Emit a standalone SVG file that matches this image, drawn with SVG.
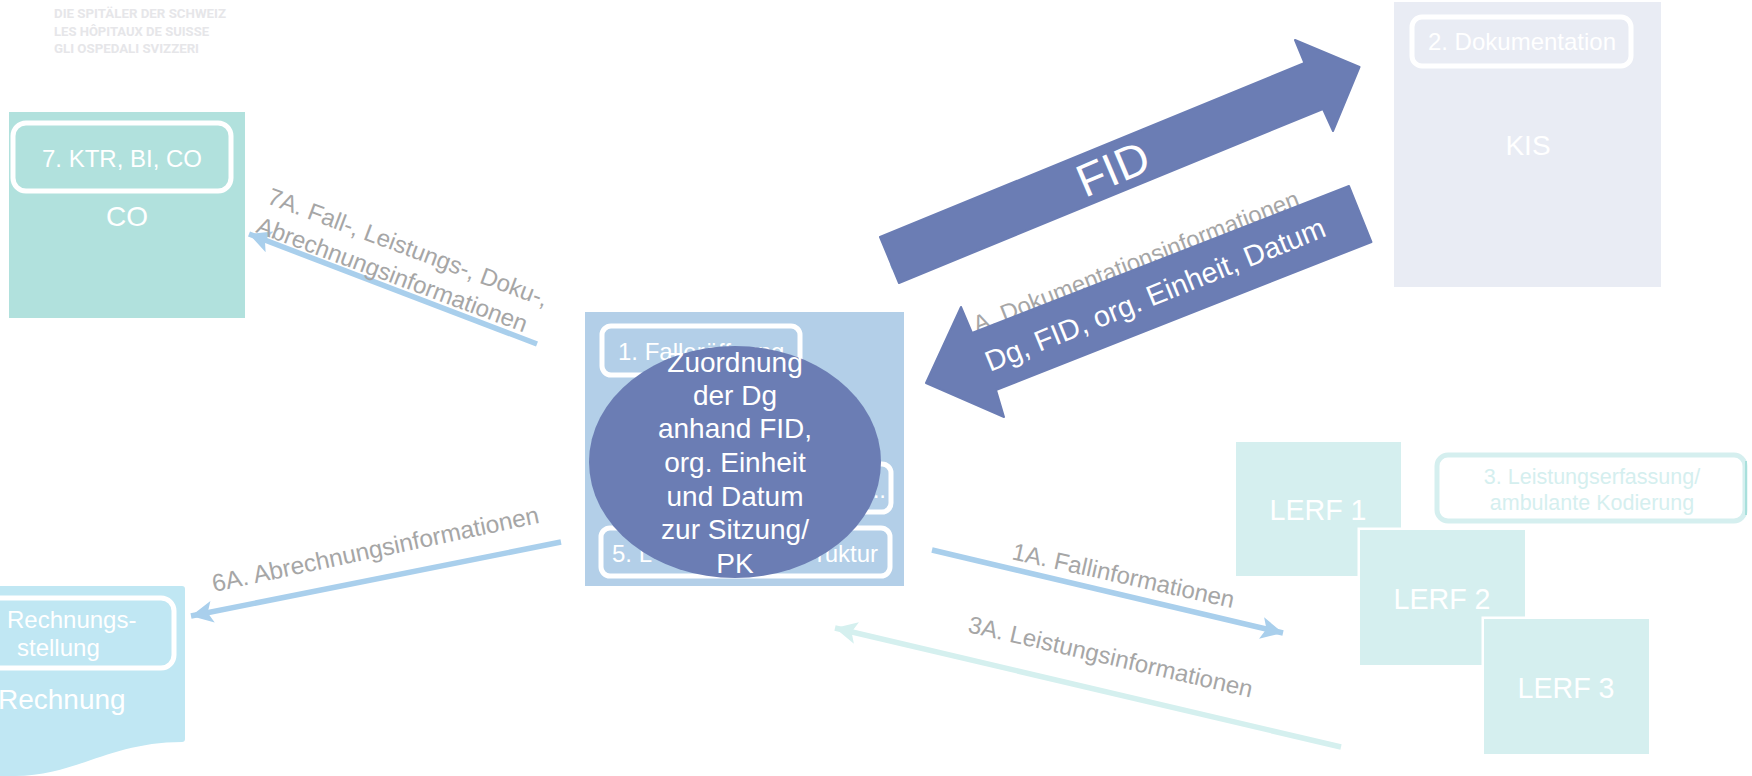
<svg xmlns="http://www.w3.org/2000/svg" width="1752" height="776" viewBox="0 0 1752 776">
<style>
text{font-family:"Liberation Sans",Arial,sans-serif}
.w{fill:#fff;font-size:24px}
.big{fill:#fff;font-size:28px;text-anchor:middle}
.lbl{fill:#a6a6a6;font-size:24px}
.box{fill:none;stroke:#fff;stroke-width:5}
.logo{fill:#e6e6e9;font-size:13.5px;font-weight:bold;font-family:"Roboto","Liberation Sans",sans-serif}
.a{stroke-width:5.5;fill:none}
.blue{stroke:#a9cfec}
.teal{stroke:#d5f0ef}
.fat{fill:#6b7db4;stroke:#6b7db4;stroke-width:2;stroke-linejoin:round}
.lerf{fill:#d5efef;stroke:#fff;stroke-width:5;paint-order:stroke}
</style>
<defs>
<marker id="hb" markerUnits="userSpaceOnUse" markerWidth="24" markerHeight="24" refX="22" refY="12" orient="auto"><path d="M0 1L22 12L0 23L5 12Z" fill="#a9cfec"/></marker>
<marker id="ht" markerUnits="userSpaceOnUse" markerWidth="24" markerHeight="24" refX="22" refY="12" orient="auto"><path d="M0 1L22 12L0 23L5 12Z" fill="#d5f0ef"/></marker>
</defs>
<g id="logo">
<text class="logo" x="54" y="18" textLength="172" lengthAdjust="spacingAndGlyphs">DIE SPITÄLER DER SCHWEIZ</text>
<text class="logo" x="54" y="36" textLength="155" lengthAdjust="spacingAndGlyphs">LES HÔPITAUX DE SUISSE</text>
<text class="logo" x="54" y="53" textLength="145" lengthAdjust="spacingAndGlyphs">GLI OSPEDALI SVIZZERI</text>
</g>
<g id="node-co">
<rect x="9" y="112" width="236" height="206" fill="#b1e1dd"/>
<rect class="box" x="13" y="123" width="218" height="68" rx="13"/>
<text class="w" x="122" y="167" text-anchor="middle">7. KTR, BI, CO</text>
<text class="big" x="127" y="226">CO</text>
</g>
<g id="node-kis">
<rect x="1394" y="2" width="267" height="285" fill="#e9ecf4"/>
<rect class="box" x="1412" y="17" width="219" height="49" rx="10"/>
<text class="w" x="1522" y="50" text-anchor="middle">2. Dokumentation</text>
<text class="big" x="1528" y="155">KIS</text>
</g>
<g id="node-rechnung">
<path d="M0 586H182Q185 586 185 589V739Q185 742 182 742C110 742 75 776 15 776H0Z" fill="#c0e7f3"/>
<rect class="box" x="-20" y="598" width="194" height="70" rx="13"/>
<text class="w" x="7" y="628">Rechnungs-</text>
<text class="w" x="17" y="656">stellung</text>
<text class="big" x="-2" y="709" style="text-anchor:start">Rechnung</text>
</g>
<g id="connectors">
<path class="a blue" d="M561 542L191 616" marker-end="url(#hb)"/>
<path class="a blue" d="M537 344L249 234" marker-end="url(#hb)"/>
<path class="a blue" d="M932 550L1283 633" marker-end="url(#hb)"/>
<path class="a teal" d="M1341 747L835 628" marker-end="url(#ht)"/>
<path class="a blue" d="M910 260L891 267"/>
</g>
<g id="labels">
<text class="lbl" transform="translate(214 592) rotate(-12)" style="font-size:24.4px">6A. Abrechnungsinformationen</text>
<text class="lbl" transform="translate(266 203) rotate(20.5)">7A. Fall-, Leistungs-, Doku-,</text>
<text class="lbl" transform="translate(255 232) rotate(20.5)">Abrechnungsinformationen</text>
<text class="lbl" transform="translate(1011 559) rotate(12.5)">1A. Fallinformationen</text>
<text class="lbl" transform="translate(967 632) rotate(13)">3A. Leistungsinformationen</text>
<text class="lbl" transform="translate(977 333) rotate(-21.5)">A. Dokumentationsinformationen</text>
</g>
<g id="node-lerf">
<rect class="lerf" x="1236" y="442" width="165" height="134"/>
<text class="big" x="1318" y="520" style="font-size:28.6px">LERF 1</text>
<rect class="lerf" x="1360" y="530" width="165" height="135"/>
<text class="big" x="1442" y="609" style="font-size:28.6px">LERF 2</text>
<rect class="lerf" x="1484" y="619" width="165" height="135"/>
<text class="big" x="1566" y="698" style="font-size:28.6px">LERF 3</text>
<rect x="1437" y="455" width="308" height="66" rx="11" fill="#fff" stroke="#d5efef" stroke-width="5"/>
<path d="M1746 461V515" stroke="#a8e0dc" stroke-width="2" fill="none"/>
<text class="w" x="1592" y="484" text-anchor="middle" style="fill:#d5efef;font-size:21.5px">3. Leistungserfassung/</text>
<text class="w" x="1592" y="510" text-anchor="middle" style="fill:#d5efef;font-size:21.5px">ambulante Kodierung</text>
</g>
<g id="node-center">
<rect x="585" y="312" width="319" height="274" fill="#b3cfe8"/>
<rect class="box" x="602" y="326" width="198" height="49" rx="9"/>
<text class="w" x="618" y="360">1. Falleröffnung</text>
<rect class="box" x="700" y="464" width="191" height="48" rx="9"/>
<text class="w" x="886" y="498" text-anchor="end">...</text>
<rect class="box" x="601" y="528" width="289" height="48" rx="9"/>
<text class="w" x="612" y="562">5. L</text>
<text class="w" x="878" y="562" text-anchor="end">ruktur</text>
<ellipse cx="735" cy="462" rx="146" ry="116" fill="#6b7db4"/>
<g style="fill:#fff;font-size:28px;text-anchor:middle">
<text x="735" y="372">Zuordnung</text>
<text x="735" y="405">der Dg</text>
<text x="735" y="438">anhand FID,</text>
<text x="735" y="472">org. Einheit</text>
<text x="735" y="506">und Datum</text>
<text x="735" y="539">zur Sitzung/</text>
<text x="735" y="573">PK</text>
</g>
</g>
<g id="arrow-fid">
<path class="fat" d="M880 237L899 283L1323 109L1333 131L1359.5 67L1295 40L1304.5 63Z"/>
<text transform="translate(1085 198) rotate(-23)" style="fill:#fff;font-size:46px">FID</text>
</g>
<g id="arrow-dg">
<path class="fat" d="M1349 186L1371.5 242L996 390L1004 417L926 383L961 307L972 333Z"/>
<text transform="translate(990 372) rotate(-22)" style="fill:#fff;font-size:29px">Dg, FID, org. Einheit, Datum</text>
</g>
</svg>
